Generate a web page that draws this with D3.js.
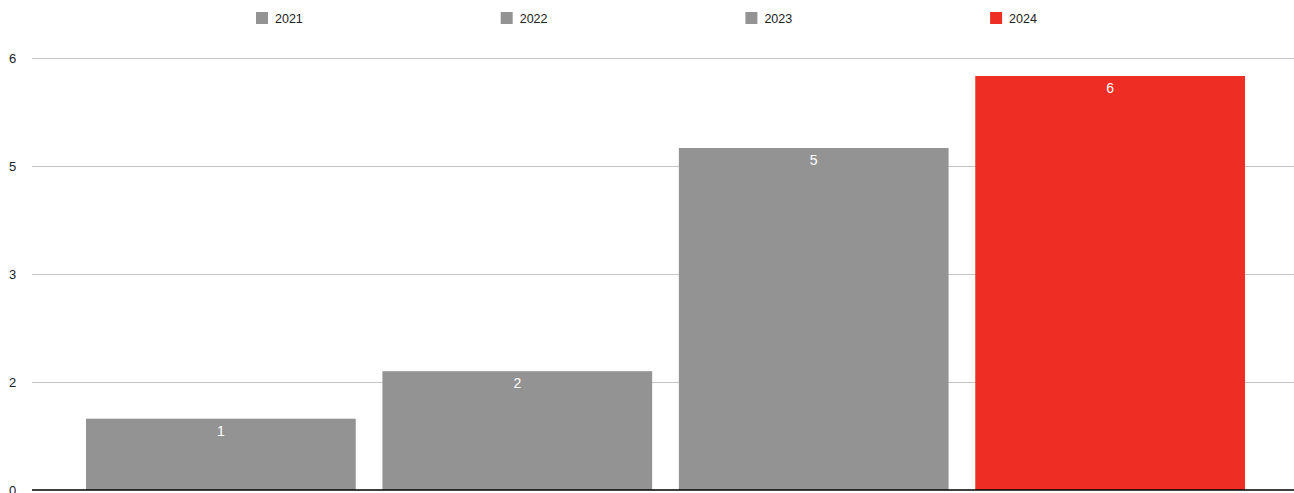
<!DOCTYPE html>
<html lang="en">
<head>
<meta charset="UTF-8">
<title>Bars 2021-2024</title>
<script src="https://d3js.org/d3.v7.min.js"></script>
<style>
  body { margin: 0; background: #fff; }
  svg { display: block; font-family: "Liberation Sans", Arial, sans-serif; }
  .grid line { stroke: #c4c4c4; stroke-width: 1px; }
  .baseline { stroke: #000; stroke-width: 1.5px; }
  .tick-label { font-size: 13px; fill: #222; }
  .legend text { font-size: 12.5px; fill: #222; }
  .bar-label { font-size: 14px; fill: #fff; }
</style>
</head>
<body>
<svg width="1294" height="493"></svg>
<script>
  // data
  var years = ["2021", "2022", "2023", "2024"];
  var values = [0.99, 1.65, 4.75, 5.75];
  var colors = ["#939393", "#939393", "#939393", "#ee2e24"];
  var yTicks = [0, 1.5, 3, 4.5, 6];

  var svg = d3.select("svg");

  var x = d3.scaleBand()
    .domain(years)
    .range([86, 1245])
    .paddingInner(0.09)
    .paddingOuter(0);

  var y = d3.scaleLinear()
    .domain([0, 6])
    .range([490, 58]);

  var fmt = d3.format(".0f");

  // gridlines + tick labels
  var grid = svg.append("g").attr("class", "grid");
  grid.selectAll("line")
    .data(yTicks.filter(function(d){ return d > 0; }))
    .enter().append("line")
      .attr("x1", 32).attr("x2", 1294)
      .attr("y1", function(d){ return Math.round(y(d)) + 0.5; })
      .attr("y2", function(d){ return Math.round(y(d)) + 0.5; });

  svg.selectAll("text.tick-label")
    .data(yTicks)
    .enter().append("text")
      .attr("class", "tick-label")
      .attr("x", 9)
      .attr("y", function(d){ return y(d); })
      .attr("dy", "0.36em")
      .text(fmt);

  // bars
  svg.append("g").selectAll("rect")
    .data(values)
    .enter().append("rect")
      .attr("x", function(d, i){ return x(years[i]); })
      .attr("width", x.bandwidth())
      .attr("y", function(d){ return y(d); })
      .attr("height", function(d){ return y(0) - y(d); })
      .attr("fill", function(d, i){ return colors[i]; });

  svg.append("g").selectAll("text")
    .data(values)
    .enter().append("text")
      .attr("class", "bar-label")
      .attr("text-anchor", "middle")
      .attr("x", function(d, i){ return x(years[i]) + x.bandwidth() / 2; })
      .attr("y", function(d){ return y(d) + 17; })
      .text(fmt);

  svg.append("line")
    .attr("class", "baseline")
    .attr("x1", 32).attr("x2", 1294)
    .attr("y1", y(0)).attr("y2", y(0));

  // legend
  var legend = svg.append("g").attr("class", "legend")
    .selectAll("g")
    .data(years)
    .enter().append("g")
      .attr("transform", function(d, i){ return "translate(" + (256 + i * 244.7) + ",12)"; });

  legend.append("rect")
    .attr("width", 12).attr("height", 12)
    .attr("fill", function(d, i){ return colors[i]; });

  legend.append("text")
    .attr("x", 19).attr("y", 6)
    .attr("dy", "0.36em")
    .text(function(d){ return d; });
</script>
</body>
</html>
